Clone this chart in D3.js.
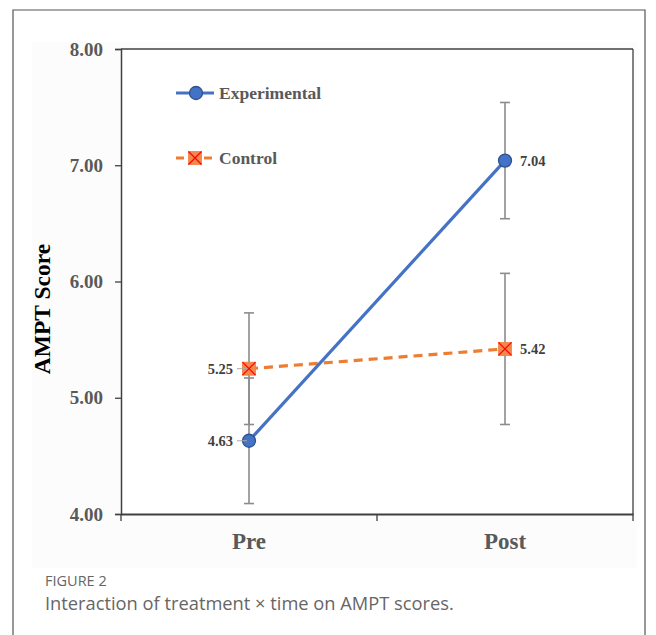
<!DOCTYPE html>
<html><head><meta charset="utf-8">
<script src="https://cdn.jsdelivr.net/npm/d3@7"></script>
<style>body{margin:0;background:#fff;}svg{display:block;}</style>
</head><body>
<script>
const categories = ["Pre", "Post"];
const seriesNames = ["Experimental", "Control"];
const experimentalMeans = [4.63, 7.04];
const experimentalErr = [0.54, 0.50];
const controlMeans = [5.25, 5.42];
const controlErr = [0.48, 0.65];
const yTicks = [4, 5, 6, 7, 8];
const captionTitle = "FIGURE 2";
const captionText = "Interaction of treatment × time on AMPT scores.";

const W = 656, H = 635;
const svg = d3.select("body").append("svg").attr("width", W).attr("height", H);
const serif = "'Liberation Serif','Times New Roman',serif";

// outer frame (no bottom)
svg.append("path").attr("d", "M13,640 V10 H645 V640").attr("fill", "none").attr("stroke", "#555").attr("stroke-width", 1.2);
svg.append("rect").attr("x", 32).attr("y", 42).attr("width", 605).attr("height", 526).attr("fill", "#fcfcfc");

const L = 121, R = 633, T = 49, B = 514;
const x = d3.scaleBand().domain(categories).range([L, R]);
const y = d3.scaleLinear().domain([4, 8]).range([B, T]);
const cx = c => x(c) + x.bandwidth() / 2;

svg.append("rect").attr("x", L).attr("y", T).attr("width", R - L).attr("height", B - T).attr("fill", "#fff");
svg.append("line").attr("x1", L).attr("x2", R).attr("y1", T).attr("y2", T).attr("stroke", "#404040").attr("stroke-width", 1.3);
svg.append("line").attr("x1", R).attr("x2", R).attr("y1", T).attr("y2", B).attr("stroke", "#404040").attr("stroke-width", 1.3);

// y axis
const yAxis = svg.append("g").attr("transform", `translate(${L},0)`)
  .call(d3.axisLeft(y).tickValues(yTicks).tickFormat(d3.format(".2f")).tickSize(6).tickPadding(12));
yAxis.select(".domain").attr("stroke", "#404040").attr("stroke-width", 1.5);
yAxis.selectAll(".tick line").attr("stroke", "#404040").attr("stroke-width", 1.3);
yAxis.selectAll("text").attr("font-family", serif).attr("font-weight", "bold").attr("font-size", 19).attr("fill", "#595959");

// x axis
const xAxis = svg.append("g").attr("transform", `translate(0,${B})`)
  .call(d3.axisBottom(x).tickSize(0).tickPadding(19));
xAxis.select(".domain").attr("stroke", "#404040").attr("stroke-width", 2);
xAxis.selectAll("text").attr("font-family", serif).attr("font-weight", "bold").attr("font-size", 23).attr("fill", "#595959");
const bounds = [L, L + x.bandwidth(), R];
svg.selectAll(".btick").data(bounds).enter().append("line")
  .attr("x1", d => d).attr("x2", d => d).attr("y1", B).attr("y2", B + 7)
  .attr("stroke", "#404040").attr("stroke-width", 1.3);

// y title
svg.append("text").attr("transform", `translate(50,309) rotate(-90)`)
  .attr("text-anchor", "middle").attr("font-family", serif).attr("font-weight", "bold")
  .attr("font-size", 23.5).attr("fill", "#000").text("AMPT Score");

function errBars(means, errs) {
  const g = svg.append("g");
  categories.forEach((c, i) => {
    const xx = cx(c), y1 = y(means[i] + errs[i]), y2 = y(means[i] - errs[i]);
    g.append("line").attr("x1", xx).attr("x2", xx).attr("y1", y1).attr("y2", y2).attr("stroke", "#8c8c8c").attr("stroke-width", 1.6);
    [y1, y2].forEach(yy => g.append("line").attr("x1", xx - 5).attr("x2", xx + 5).attr("y1", yy).attr("y2", yy).attr("stroke", "#8c8c8c").attr("stroke-width", 1.6));
  });
}
errBars(experimentalMeans, experimentalErr);
errBars(controlMeans, controlErr);

const line = d3.line().x((d, i) => cx(categories[i])).y(d => y(d));
const BLUE = "#4472C4", ORANGE = "#ED7D31";

svg.append("path").datum(controlMeans).attr("d", line).attr("fill", "none").attr("stroke", ORANGE).attr("stroke-width", 3.2).attr("stroke-dasharray", "9,6");
svg.append("path").datum(experimentalMeans).attr("d", line).attr("fill", "none").attr("stroke", BLUE).attr("stroke-width", 3.2);

function circleMarker(g, xx, yy) {
  g.append("circle").attr("cx", xx).attr("cy", yy).attr("r", 6.5).attr("fill", BLUE).attr("stroke", "#2F528F").attr("stroke-width", 1.3);
}
function squareMarker(g, xx, yy) {
  const s = 6.5;
  g.append("rect").attr("x", xx - s).attr("y", yy - s).attr("width", 2 * s).attr("height", 2 * s).attr("fill", "#F4874B").attr("stroke", "#F08040").attr("stroke-width", 0.8);
  g.append("path").attr("d", `M${xx - s},${yy - s}L${xx + s},${yy + s}M${xx + s},${yy - s}L${xx - s},${yy + s}`).attr("stroke", "#FF0000").attr("stroke-width", 1.2);
}

const mk = svg.append("g");
categories.forEach((c, i) => {
  circleMarker(mk, cx(c), y(experimentalMeans[i]));
  squareMarker(mk, cx(c), y(controlMeans[i]));
});

const fmt = d3.format(".2f");
function label(val, i) {
  const xx = cx(categories[i]), yy = y(val);
  if (i === 0) {
    svg.append("line").attr("x1", xx - 12).attr("x2", xx - 2).attr("y1", yy).attr("y2", yy).attr("stroke", "#aaa").attr("stroke-width", 1);
    svg.append("text").attr("x", xx - 16).attr("y", yy).attr("dy", "0.35em").attr("text-anchor", "end")
      .attr("font-family", serif).attr("font-weight", "bold").attr("font-size", 14.5).attr("fill", "#404040").text(fmt(val));
  } else {
    svg.append("text").attr("x", xx + 15).attr("y", yy).attr("dy", "0.35em").attr("text-anchor", "start")
      .attr("font-family", serif).attr("font-weight", "bold").attr("font-size", 14.5).attr("fill", "#404040").text(fmt(val));
  }
}
experimentalMeans.forEach((v, i) => label(v, i));
controlMeans.forEach((v, i) => label(v, i));

// legend
const lg = svg.append("g");
lg.append("line").attr("x1", 176).attr("x2", 214).attr("y1", 93).attr("y2", 93).attr("stroke", BLUE).attr("stroke-width", 3.2);
circleMarker(lg, 196, 93);
lg.append("text").attr("x", 219).attr("y", 93).attr("dy", "0.35em").attr("font-family", serif).attr("font-weight", "bold")
  .attr("font-size", 17.5).attr("fill", "#595959").text(seriesNames[0]);
lg.append("line").attr("x1", 176).attr("x2", 213).attr("y1", 158).attr("y2", 158).attr("stroke", ORANGE).attr("stroke-width", 3.2).attr("stroke-dasharray", "8,6");
squareMarker(lg, 195, 158);
lg.append("text").attr("x", 219).attr("y", 158).attr("dy", "0.35em").attr("font-family", serif).attr("font-weight", "bold")
  .attr("font-size", 17.5).attr("fill", "#595959").text(seriesNames[1]);

// caption
svg.append("text").attr("x", 45).attr("y", 586).attr("font-family", "'Open Sans','Noto Sans',sans-serif")
  .attr("font-size", 14.5).attr("fill", "#666").text(captionTitle);
svg.append("text").attr("x", 45).attr("y", 610).attr("font-family", "'Open Sans','Noto Sans',sans-serif")
  .attr("font-size", 18.3).attr("fill", "#666").text(captionText);
</script>
</body></html>
